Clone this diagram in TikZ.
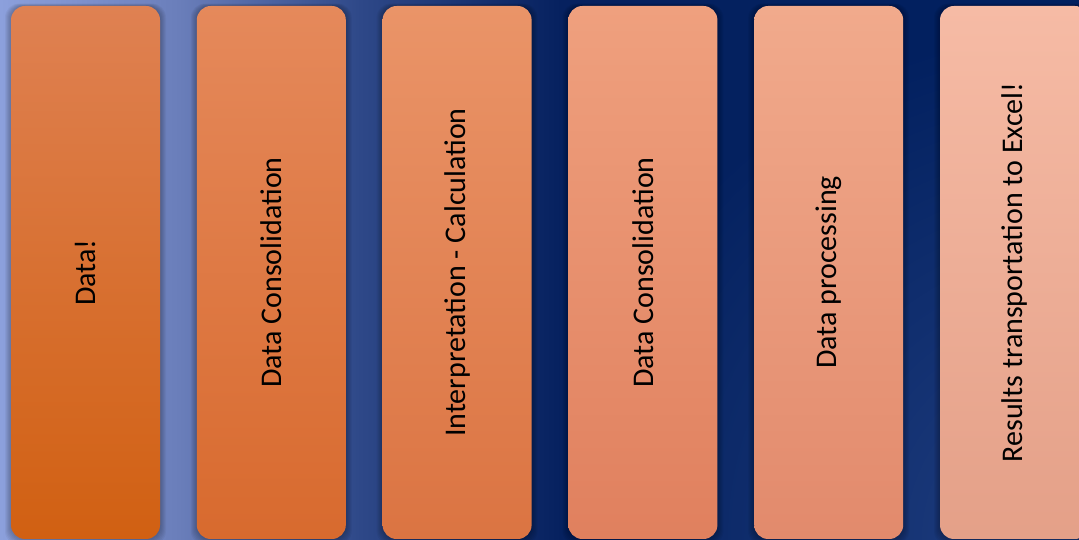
\documentclass[tikz,border=0pt]{standalone}
\usepackage{fontspec}
\setmainfont{Carlito}
\usetikzlibrary{fadings}
\definecolor{bgA}{HTML}{8CA0DC}
\definecolor{bgB}{HTML}{6A7EBA}
\definecolor{bgC}{HTML}{2E4888}
\definecolor{bgD}{HTML}{06215F}
\definecolor{bgE}{HTML}{00205F}
\definecolor{bgL}{HTML}{2C4A8C}
\definecolor{t1}{HTML}{DF8152}\definecolor{u1}{HTML}{D16012}
\definecolor{t2}{HTML}{E5895B}\definecolor{u2}{HTML}{D86A2E}
\definecolor{t3}{HTML}{EA9468}\definecolor{u3}{HTML}{DB7442}
\definecolor{t4}{HTML}{EFA07E}\definecolor{u4}{HTML}{E0805E}
\definecolor{t5}{HTML}{F1AA8C}\definecolor{u5}{HTML}{E28A6C}
\definecolor{t6}{HTML}{F6BBA5}\definecolor{u6}{HTML}{E4A088}
\pgfdeclarehorizontalshading{bgshade}{100bp}{color(0bp)=(bgA); color(25bp)=(bgA); color(33.3bp)=(bgB); color(41.7bp)=(bgC); color(51bp)=(bgD); color(75bp)=(bgE); color(100bp)=(bgE)}
\tikzfading[name=radfade, inner color=transparent!25, outer color=transparent!100]
\begin{document}
\begin{tikzpicture}[x=1pt,y=1pt,
  box/.style={draw=none, rounded corners=14pt, minimum width=149pt, minimum height=533pt, inner sep=0pt},
  lbl/.style={rotate=90, font=\fontsize{30}{36}\selectfont, text=black, inner sep=0pt}]
\useasboundingbox (0,0) rectangle (1079,540);
\clip (0,0) rectangle (1079,540);
\shade[shading=bgshade] (0,0) rectangle (1079,540);
\fill[bgL, path fading=radfade] (1079,0) circle (520);
% soft shadows
\foreach \i in {0,...,5}{
  \foreach \k in {6,5,...,1}{
    \fill[black, opacity=0.045, rounded corners=14pt]
      ({11+\i*185.8-\k},{1-\k}) rectangle ({160+\i*185.8+\k},{534+0.4*\k});
  }
}
\node[box, top color=t1, bottom color=u1] (b1) at (85.5,267.5) {};
\node[box, top color=t2, bottom color=u2] (b2) at (271.3,267.5) {};
\node[box, top color=t3, bottom color=u3] (b3) at (457.1,267.5) {};
\node[box, top color=t4, bottom color=u4] (b4) at (642.9,267.5) {};
\node[box, top color=t5, bottom color=u5] (b5) at (828.7,267.5) {};
\node[box, top color=t6, bottom color=u6] (b6) at (1014.5,267.5) {};
\node[lbl] (l1) at (b1.center) {Data!};
\node[lbl] (l2) at (b2.center) {Data Consolidation};
\node[lbl] (l3) at (b3.center) {Interpretation - Calculation};
\node[lbl] (l4) at (b4.center) {Data Consolidation};
\node[lbl] (l5) at (b5.center) {Data processing};
\node[lbl] (l6) at (b6.center) {Results transportation to Excel!};
\end{tikzpicture}
\end{document}
